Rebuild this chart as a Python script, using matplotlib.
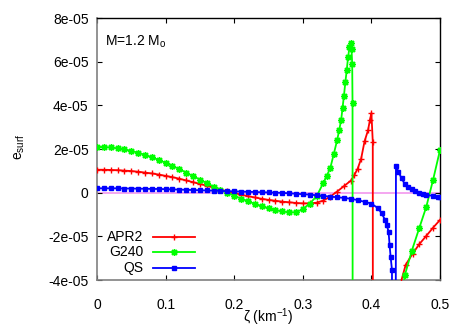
import numpy as np
import matplotlib
matplotlib.use("Agg")
import matplotlib.pyplot as plt

plt.rcParams['font.family'] = ['Liberation Sans', 'DejaVu Sans']
plt.rcParams['mathtext.fontset'] = 'custom'
plt.rcParams['mathtext.rm'] = 'Liberation Sans'

OFF = -100.0  # far below the plot, the curve diverges here

# APR2 (values in units of 1e-5)
apr2_x = [0.00, 0.01, 0.02, 0.03, 0.04, 0.05, 0.06, 0.07, 0.08, 0.09,
          0.10, 0.11, 0.12, 0.13, 0.14, 0.15, 0.16, 0.17, 0.18, 0.19,
          0.20, 0.21, 0.22, 0.23, 0.24, 0.25, 0.26, 0.27, 0.28, 0.29,
          0.30, 0.31, 0.32, 0.33, 0.34, 0.35, 0.36, 0.37, 0.375, 0.38,
          0.385, 0.39, 0.395, 0.398, 0.400, 0.402, 0.4035,
          0.443, 0.45, 0.46, 0.47, 0.48, 0.49, 0.50]
apr2_y = [1.05, 1.05, 1.04, 1.03, 1.01, 0.99, 0.96, 0.92, 0.88, 0.83,
          0.77, 0.71, 0.64, 0.56, 0.48, 0.40, 0.32, 0.23, 0.14, 0.06,
          -0.02, -0.09, -0.16, -0.22, -0.28, -0.33, -0.37, -0.41, -0.44, -0.47,
          -0.49, -0.49, -0.46, -0.36, -0.18, 0.05, 0.30, 0.55, 0.80, 1.10,
          1.55, 2.35, 2.85, 3.35, 3.65, 2.33, OFF,
          -4.1, -3.3, -2.8, -2.35, -1.98, -1.60, -1.25]

# G240
g240_x = [0.00, 0.01, 0.02, 0.03, 0.04, 0.05, 0.06, 0.07, 0.08, 0.09,
          0.10, 0.11, 0.12, 0.13, 0.14, 0.15, 0.16, 0.17, 0.18, 0.19,
          0.20, 0.21, 0.22, 0.23, 0.24, 0.25, 0.26, 0.27, 0.28, 0.29,
          0.30, 0.31, 0.32, 0.33, 0.335, 0.34, 0.345, 0.35, 0.353, 0.356,
          0.358, 0.360, 0.362, 0.364, 0.366, 0.368, 0.370, 0.371, 0.372, 0.3725,
          0.374, 0.447, 0.449, 0.459, 0.47, 0.48, 0.49, 0.50]
g240_y = [2.10, 2.09, 2.07, 2.03, 1.98, 1.91, 1.83, 1.73, 1.62, 1.50,
          1.37, 1.23, 1.08, 0.92, 0.76, 0.60, 0.44, 0.28, 0.13, 0.00,
          -0.14, -0.27, -0.39, -0.51, -0.62, -0.72, -0.80, -0.86, -0.90, -0.90,
          -0.75, -0.50, -0.17, 0.45, 0.78, 1.12, 1.75, 2.40, 2.85, 3.35,
          3.90, 4.45, 5.05, 5.60, 6.20, 6.65, 6.85, 6.60, 5.90, 4.10,
          OFF, -4.2, -3.75, -2.65, -1.60, -0.65, 0.60, 1.95]

# QS
qs_x = [0.00, 0.01, 0.02, 0.03, 0.04, 0.05, 0.06, 0.07, 0.08, 0.09,
        0.10, 0.11, 0.12, 0.13, 0.14, 0.15, 0.16, 0.17, 0.18, 0.19,
        0.20, 0.21, 0.22, 0.23, 0.24, 0.25, 0.26, 0.27, 0.28, 0.29,
        0.30, 0.31, 0.32, 0.33, 0.34, 0.35, 0.36, 0.37, 0.38, 0.39,
        0.40, 0.41, 0.415, 0.42, 0.4225, 0.425, 0.4265, 0.428, 0.430, 0.4315,
        0.4358, 0.4395, 0.444, 0.449, 0.454, 0.459, 0.464, 0.469, 0.475, 0.48,
        0.49, 0.4975, 0.50]
qs_y = [0.20, 0.20, 0.20, 0.20, 0.19, 0.19, 0.18, 0.18, 0.17, 0.17,
        0.16, 0.15, 0.14, 0.13, 0.12, 0.11, 0.10, 0.09, 0.08, 0.07,
        0.06, 0.05, 0.04, 0.03, 0.02, 0.01, 0.00, -0.01, -0.03, -0.05,
        -0.07, -0.09, -0.12, -0.15, -0.18, -0.21, -0.24, -0.28, -0.34, -0.42,
        -0.50, -0.72, -0.95, -1.25, -1.50, -1.78, -2.39, -2.93, -3.54, OFF,
        1.22, 0.96, 0.65, 0.38, 0.25, 0.16, 0.07, 0.00, -0.06, -0.10,
        -0.15, -0.18, -0.20]

labels = ["APR2", "G240", "QS"]
colors = ["#ff0000", "#00ff00", "#0000ff"]
markers = ["+", (8, 2, 0), "s"]
msizes = [5, 5, 3.5]

fig = plt.figure(figsize=(4.67, 3.27), dpi=100)
ax = fig.add_axes([97/467, 1-280/327, 343/467, 262/327])

scale = 1e-5
ax.axhline(0, color="#f4a6f0", lw=1.4, zorder=1)

series = [(apr2_x, apr2_y), (g240_x, g240_y), (qs_x, qs_y)]
for (xs, ys), lab, c, m, ms in zip(series, labels, colors, markers, msizes):
    ax.plot(np.array(xs), np.array(ys) * scale, color=c, lw=1.3,
            marker=m, ms=ms, mew=1.0, label=lab, zorder=3)

ax.set_xlim(0, 0.5)
ax.set_ylim(-4e-5, 8e-5)
ax.set_xticks([0, 0.1, 0.2, 0.3, 0.4, 0.5])
ax.set_xticklabels(["0", "0.1", "0.2", "0.3", "0.4", "0.5"])
yt = [-4e-5, -2e-5, 0, 2e-5, 4e-5, 6e-5, 8e-5]
ax.set_yticks(yt)
ax.set_yticklabels(["-4e-05", "-2e-05", "0", "2e-05", "4e-05", "6e-05", "8e-05"])
ax.tick_params(direction="in", length=3.5, width=0.8, top=True, right=True,
               labelsize=10)
ax.tick_params(axis="x", pad=13)
ax.tick_params(axis="y", pad=6)

for s in ["left", "bottom"]:
    ax.spines[s].set_color("#808080")
    ax.spines[s].set_linewidth(1.2)
for s in ["top", "right"]:
    ax.spines[s].set_color("black")
    ax.spines[s].set_linewidth(1.0)

ax.set_xlabel(r"ζ (km$^{-1}$)", fontsize=10)
ax.xaxis.set_label_coords(0.5, -0.102)
ax.set_ylabel(r"e$_{\rm surf}$", fontsize=10)
ax.yaxis.set_label_coords(-0.205, 0.508)

ax.text(0.023, 0.908, r"M=1.2 M$_{\rm o}$", transform=ax.transAxes,
        fontsize=10, va="center", ha="left")

# gnuplot style key: label on the left, sample on the right
key_y = [0.164, 0.107, 0.046]
for ky, lab, c, m, ms in zip(key_y, labels, colors, markers, msizes):
    ax.text(0.135, ky, lab, transform=ax.transAxes, fontsize=10,
            ha="right", va="center")
    ax.plot([0.163, 0.286], [ky, ky], transform=ax.transAxes, color=c,
            lw=1.3, clip_on=False, zorder=4)
    ax.plot([0.224], [ky], transform=ax.transAxes, color=c, marker=m,
            ms=ms, mew=1.0, clip_on=False, zorder=4)

fig.savefig("out.png", dpi=100)
